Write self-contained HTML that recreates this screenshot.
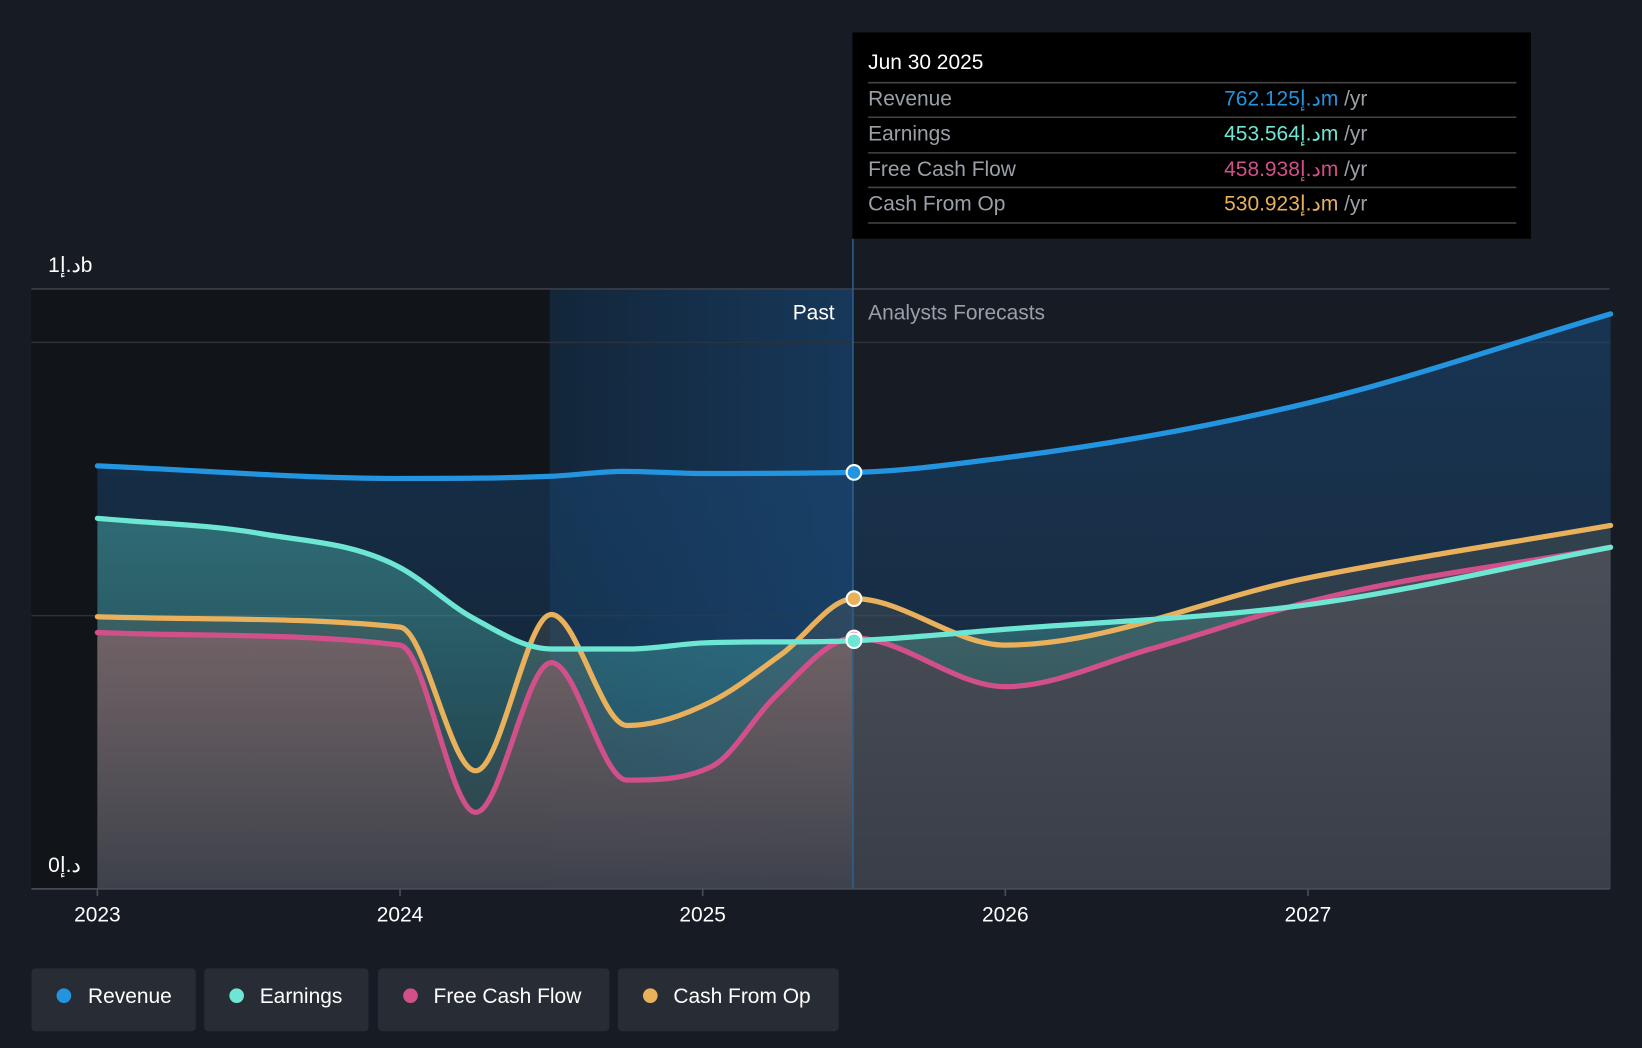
<!DOCTYPE html>
<html><head><meta charset="utf-8"><style>
html,body{margin:0;padding:0;background:#161b24;width:1642px;height:1048px;overflow:hidden}
svg{display:block;font-family:"Liberation Sans","Noto Sans CJK SC",sans-serif}
</style></head><body>
<svg id="chart" width="1642" height="1048" viewBox="0 0 1568 1001" preserveAspectRatio="none">
<defs>
<linearGradient id="pastg" x1="0" x2="1" y1="0" y2="0"><stop offset="0" stop-color="#13263a"/><stop offset="1" stop-color="#17385a"/></linearGradient>
<linearGradient id="revg" x1="0" x2="0" y1="0" y2="1"><stop offset="0" stop-color="#1a4a78" stop-opacity="0.55"/><stop offset="1" stop-color="#1a4a78" stop-opacity="0.25"/></linearGradient>
<linearGradient id="earng" x1="0" x2="0" y1="0" y2="1"><stop offset="0" stop-color="#4fb8b0" stop-opacity="0.45"/><stop offset="1" stop-color="#4fb8b0" stop-opacity="0.15"/></linearGradient>
<linearGradient id="cfog" x1="0" x2="0" y1="0" y2="1"><stop offset="0" stop-color="#6a6a5a" stop-opacity="0.3"/><stop offset="1" stop-color="#555" stop-opacity="0.2"/></linearGradient>
<linearGradient id="fcfg" x1="0" x2="0" y1="0" y2="1"><stop offset="0" stop-color="#4a4d56" stop-opacity="0.95"/><stop offset="1" stop-color="#3a3e48" stop-opacity="0.95"/></linearGradient>
<linearGradient id="fcfpast" x1="0" x2="0" y1="0" y2="1"><stop offset="0" stop-color="#8a7070" stop-opacity="0.8"/><stop offset="1" stop-color="#8a7070" stop-opacity="0.05"/></linearGradient>
<clipPath id="pastclip"><rect x="0" y="0" width="814" height="1001"/></clipPath>
</defs>
<rect x="30" y="276" width="495" height="573" fill="#111418"/>
<rect x="525" y="276" width="289" height="573" fill="url(#pastg)"/>
<g id="grid"></g>
<g id="areas"></g>
<g id="lines"></g>
<line x1="814.5" x2="814.5" y1="228" y2="849" stroke="#2e5f8c" stroke-width="1.5"/>
<line x1="30" x2="1537" y1="849" y2="849" stroke="#4a4f58" stroke-width="1.5"/>
<text x="46" y="260" fill="#fff" font-size="20">1د.إb</text>
<text x="46" y="833" fill="#fff" font-size="20">0د.إ</text>
<text x="797" y="305" fill="#fff" font-size="20" text-anchor="end">Past</text>
<text x="829" y="305" fill="#9aa0a8" font-size="20">Analysts Forecasts</text>
<g id="xticks"></g>
<g id="dots"></g>
<g>
<rect x="814" y="31" width="648" height="197" fill="#000"/>
<text x="829" y="66" fill="#fff" font-size="20">Jun 30 2025</text>
<g stroke="#444" stroke-width="1.5"><line x1="829" x2="1448" y1="79" y2="79"/><line x1="829" x2="1448" y1="112" y2="112"/><line x1="829" x2="1448" y1="146" y2="146"/><line x1="829" x2="1448" y1="179" y2="179"/><line x1="829" x2="1448" y1="213" y2="213"/></g>
<g font-size="20" fill="#9aa0a8"><text x="829" y="101">Revenue</text><text x="829" y="134">Earnings</text><text x="829" y="168">Free Cash Flow</text><text x="829" y="201">Cash From Op</text></g>
<g font-size="20"><text x="1169" y="101"><tspan fill="#2394df">762.125د.إm</tspan><tspan fill="#9aa0a8"> /yr</tspan></text>
<text x="1169" y="134"><tspan fill="#6ee6d4">453.564د.إm</tspan><tspan fill="#9aa0a8"> /yr</tspan></text>
<text x="1169" y="168"><tspan fill="#d2508a">458.938د.إm</tspan><tspan fill="#9aa0a8"> /yr</tspan></text>
<text x="1169" y="201"><tspan fill="#e9b15c">530.923د.إm</tspan><tspan fill="#9aa0a8"> /yr</tspan></text></g>
</g>
<g font-size="20" fill="#fff">
<g><rect x="30" y="925" width="157" height="60" rx="4" fill="#272c35"/><circle cx="61" cy="951" r="7" fill="#2394df"/><text x="84" y="958">Revenue</text></g>
<g><rect x="195" y="925" width="157" height="60" rx="4" fill="#272c35"/><circle cx="226" cy="951" r="7" fill="#6ee6d4"/><text x="248" y="958">Earnings</text></g>
<g><rect x="361" y="925" width="221" height="60" rx="4" fill="#272c35"/><circle cx="392" cy="951" r="7" fill="#d2508a"/><text x="414" y="958">Free Cash Flow</text></g>
<g><rect x="590" y="925" width="211" height="60" rx="4" fill="#272c35"/><circle cx="621" cy="951" r="7" fill="#e9b15c"/><text x="643" y="958">Cash From Op</text></g>
</g>
</svg>
<script>
const revT=[2023,2024,2024.5,2024.74,2025,2025.5,2026,2027,2028];
const revV=[774,751,755,764,760,762,789,889,1052];
const earnT=[2023,2023.54,2024,2024.24,2024.5,2024.76,2025,2025.5,2026,2027,2028];
const earnV=[678,650,588,496,439,439,450,454,475,520,625];
const fcfT=[2023,2024,2024.25,2024.5,2024.75,2025.03,2025.24,2025.5,2026,2026.48,2027,2028];
const fcfV=[469,446,140,414,199,224,352,459,370,439,525,625];
const cfoT=[2023,2024,2024.25,2024.5,2024.75,2025.03,2025.26,2025.5,2026,2027,2028];
const cfoV=[498,479,216,502,299,343,429,531,446,569,665];
const gridVals=[0,500,1000];
const xTicks=[2023,2024,2025,2026,2027];
const pastEnd=2025.5;
const NS='http://www.w3.org/2000/svg';
const X=t=>93+(t-2023)*289;
const Y=v=>849-v*0.522;
function pts(T,V){return T.map((t,i)=>[X(t),Y(V[i])]);}
function path(p){const n=p.length;const s=[],m=[];
for(let i=0;i<n-1;i++)s.push((p[i+1][1]-p[i][1])/(p[i+1][0]-p[i][0]));
for(let i=0;i<n;i++){if(i===0)m.push(s[0]);else if(i===n-1)m.push(s[n-2]);else{const a=s[i-1],b=s[i];
if(a*b<=0)m.push(0);else{const h0=p[i][0]-p[i-1][0],h1=p[i+1][0]-p[i][0];m.push((a*h1+b*h0)/(h0+h1));
const lim=3*Math.min(Math.abs(a),Math.abs(b));if(Math.abs(m[i])>lim)m[i]=Math.sign(m[i])*lim;}}}
let d='M'+p[0][0]+','+p[0][1];
for(let i=0;i<n-1;i++){const h=(p[i+1][0]-p[i][0])/3;
d+=` C${p[i][0]+h},${p[i][1]+m[i]*h} ${p[i+1][0]-h},${p[i+1][1]-m[i+1]*h} ${p[i+1][0]},${p[i+1][1]}`;}return d;}
function mk(tag,attrs,parent){const e=document.createElementNS(NS,tag);for(const k in attrs)e.setAttribute(k,attrs[k]);document.getElementById(parent).appendChild(e);return e;}
gridVals.forEach(v=>{const l=mk('line',{x1:30,x2:1537,y1:Y(v),y2:Y(v),stroke:'#2c313a','stroke-width':1.5},'grid');

});
const topLine=mk('line',{x1:30,x2:1537,y1:276,y2:276,stroke:'#3a3f48','stroke-width':1.5},'grid');


const series=[['revenue',revT,revV,'#2394df','url(#revg)'],['earnings',earnT,earnV,'#6ee6d4','url(#earng)'],['cash-from-op',cfoT,cfoV,'#e9b15c','url(#cfog)'],['free-cash-flow',fcfT,fcfV,'#d2508a','url(#fcfg)']];
series.forEach(s=>{const p=pts(s[1],s[2]);const d=path(p);
const closed=d+` L${p[p.length-1][0]},${Y(0)} L${p[0][0]},${Y(0)} Z`;
const a=mk('path',{d:closed,fill:s[4]},'areas');


if(s[0]==='free-cash-flow'){const b=mk('path',{d:closed,fill:'url(#fcfpast)','clip-path':'url(#pastclip)'},'areas');

}});
series.slice().reverse().forEach(s=>{const p=pts(s[1],s[2]);
const l=mk('path',{d:path(p),fill:'none',stroke:s[3],'stroke-width':5,'stroke-linecap':'round'},'lines');


const i=s[1].indexOf(pastEnd);
const c=mk('circle',{cx:X(pastEnd),cy:Y(s[2][i]),r:7,fill:s[3],stroke:'#fff','stroke-width':2},'dots');

});
xTicks.forEach(t=>{const l=mk('line',{x1:X(t),x2:X(t),y1:849,y2:856,stroke:'#4a4f58','stroke-width':1.5},'xticks');


const tx=mk('text',{x:X(t),y:880,fill:'#fff','font-size':20,'text-anchor':'middle'},'xticks');tx.textContent=t;

});
</script>
</body></html>
